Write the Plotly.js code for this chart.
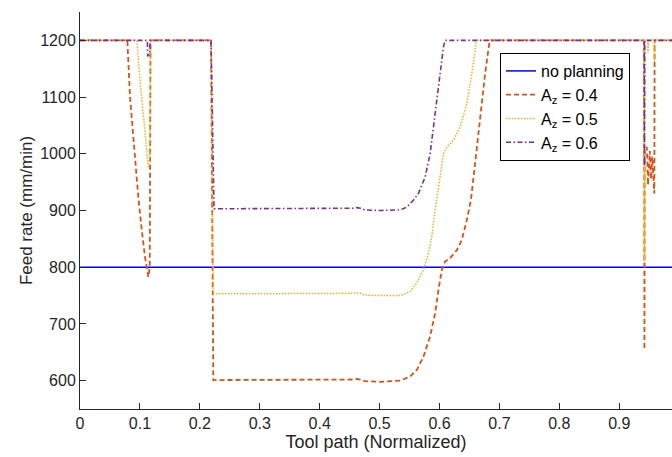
<!DOCTYPE html>
<html>
<head>
<meta charset="utf-8">
<script src="https://cdn.plot.ly/plotly-3.0.1.min.js"></script>
<style>
  html, body { margin: 0; padding: 0; background: #ffffff; }
  #chart { width: 672px; height: 457px; }
</style>
</head>
<body>
<div id="chart"></div>
<script>
// Feed rate along the normalized tool path, without planning and for three A_z limits.

const seriesNames = ['no planning', 'A<sub>z</sub> = 0.4', 'A<sub>z</sub> = 0.5', 'A<sub>z</sub> = 0.6'];

// No planning: constant feed rate
const pathNoPlan = [0, 1];
const feedNoPlan = [800, 800];

// A_z = 0.4
const pathAz04 = [0, 0.079, 0.0835, 0.088, 0.0918, 0.0973, 0.103, 0.1085, 0.114, 0.1164, 0.1177,
  0.2187, 0.2225, 0.26, 0.32, 0.38, 0.44, 0.455, 0.462, 0.468, 0.475, 0.50, 0.5342,
  0.5509, 0.5621, 0.5731, 0.5843, 0.5927, 0.5982, 0.6038, 0.6093, 0.6177, 0.6289, 0.6372,
  0.6456, 0.6523, 0.6594, 0.6678, 0.6761, 0.6833, 0.686,
  0.9415, 0.942, 0.9425, 0.946, 0.948, 0.951, 0.953, 0.955, 0.9585, 0.959, 1];
const feedAz04 = [1200, 1200, 1100, 1041, 983, 924, 866, 818, 783, 800, 1200,
  1200, 601, 601, 601, 601, 601, 602, 603, 602, 599, 598, 600,
  607, 619, 642, 678, 719, 760, 795, 810, 816, 830, 848,
  883, 918, 983, 1065, 1141, 1197, 1200,
  1200, 655, 1005, 1012, 945, 1005, 955, 995, 930, 1200, 1200];

// A_z = 0.5
const pathAz05 = [0, 0.0947, 0.1002, 0.1057, 0.1102, 0.114, 0.1164, 0.1177,
  0.2187, 0.2225, 0.26, 0.32, 0.38, 0.44, 0.455, 0.462, 0.468, 0.475, 0.50, 0.5342,
  0.5509, 0.5621, 0.5731, 0.5815, 0.5871, 0.5927, 0.5998, 0.6065, 0.6122, 0.6232,
  0.6344, 0.6456, 0.6539, 0.6611, 0.663,
  0.9415, 0.942, 0.9425, 0.9475, 0.948, 0.9485, 0.958, 0.9588, 0.9595, 1];
const feedAz05 = [1200, 1200, 1130, 1065, 1018, 977, 990, 1200,
  1200, 753, 753, 753, 753, 753, 754, 755, 754, 751, 750, 750,
  757, 772, 795, 824, 854, 901, 950, 1000, 1012, 1024,
  1047, 1089, 1141, 1197, 1200,
  1200, 810, 1200, 1200, 1178, 1200, 1200, 1162, 1200, 1200];

// A_z = 0.6
const pathAz06 = [0, 0.1125, 0.113, 0.1165, 0.117,
  0.2187, 0.2237, 0.26, 0.32, 0.38, 0.44, 0.455, 0.462, 0.468, 0.475, 0.50, 0.5342,
  0.5454, 0.5564, 0.5648, 0.576, 0.5843, 0.5927, 0.601, 0.6065, 0.6093,
  0.9415, 0.942, 0.9425, 1];
const feedAz06 = [1200, 1200, 1172, 1175, 1200,
  1200, 903, 903, 903, 903, 903, 904, 905, 904, 901, 900, 901,
  906, 918, 930, 959, 1000, 1071, 1141, 1188, 1200,
  1200, 978, 1200, 1200];

const xTickVals = [0, 0.1, 0.2, 0.3, 0.4, 0.5, 0.6, 0.7, 0.8, 0.9];
const xTickText = ['0', '0.1', '0.2', '0.3', '0.4', '0.5', '0.6', '0.7', '0.8', '0.9'];
const yTickVals = [600, 700, 800, 900, 1000, 1100, 1200];
const yTickText = ['600', '700', '800', '900', '1000', '1100', '1200'];

const lineColors = ['rgb(0,0,255)', '#D95319', '#EDB120', '#7E2F8E'];
const lineDashes = ['solid', '5px,3px', '1.5px,1.5px', '5px,2.5px,1.5px,2.5px'];
const lineWidths = [1.5, 1.8, 1.5, 1.6];

const xs = [pathNoPlan, pathAz04, pathAz05, pathAz06];
const ys = [feedNoPlan, feedAz04, feedAz05, feedAz06];

const traces = seriesNames.map((name, i) => ({
  type: 'scatter',
  mode: 'lines',
  name: name,
  x: xs[i],
  y: ys[i],
  line: { color: lineColors[i], dash: lineDashes[i], width: lineWidths[i] },
  hoverinfo: 'x+y+name'
}));

const axisColor = '#262626';
const fontFamily = '"Liberation Sans", Arial, Helvetica, sans-serif';

const layout = {
  width: 672,
  height: 457,
  margin: { l: 80, r: 0, t: 12, b: 48 },
  paper_bgcolor: '#ffffff',
  plot_bgcolor: '#ffffff',
  font: { family: fontFamily, size: 16, color: axisColor },
  showlegend: true,
  legend: {
    x: 0.7095, y: 0.8967, xanchor: 'left', yanchor: 'top',
    bgcolor: '#ffffff', bordercolor: '#000000', borderwidth: 1,
    font: { family: fontFamily, size: 16, color: '#000000' },
    itemwidth: 30,
    tracegroupgap: 0
  },
  xaxis: {
    range: [0, 0.988],
    tickvals: xTickVals,
    ticktext: xTickText,
    ticks: 'inside',
    ticklen: 6,
    tickcolor: axisColor,
    showline: true,
    linecolor: axisColor,
    linewidth: 1,
    showgrid: false,
    zeroline: false,
    tickfont: { size: 16, color: axisColor },
    title: { text: 'Tool path (Normalized)', font: { size: 18, color: axisColor }, standoff: 4 }
  },
  yaxis: {
    range: [550, 1250],
    tickvals: yTickVals,
    ticktext: yTickText,
    ticks: 'inside',
    ticklen: 6,
    tickcolor: axisColor,
    showline: true,
    linecolor: axisColor,
    linewidth: 1,
    showgrid: false,
    zeroline: false,
    tickfont: { size: 16, color: axisColor },
    title: { text: 'Feed rate (mm/min)', font: { size: 17, color: axisColor }, standoff: 3 }
  }
};

Plotly.newPlot('chart', traces, layout, { displayModeBar: false, staticPlot: true });
</script>
</body>
</html>
